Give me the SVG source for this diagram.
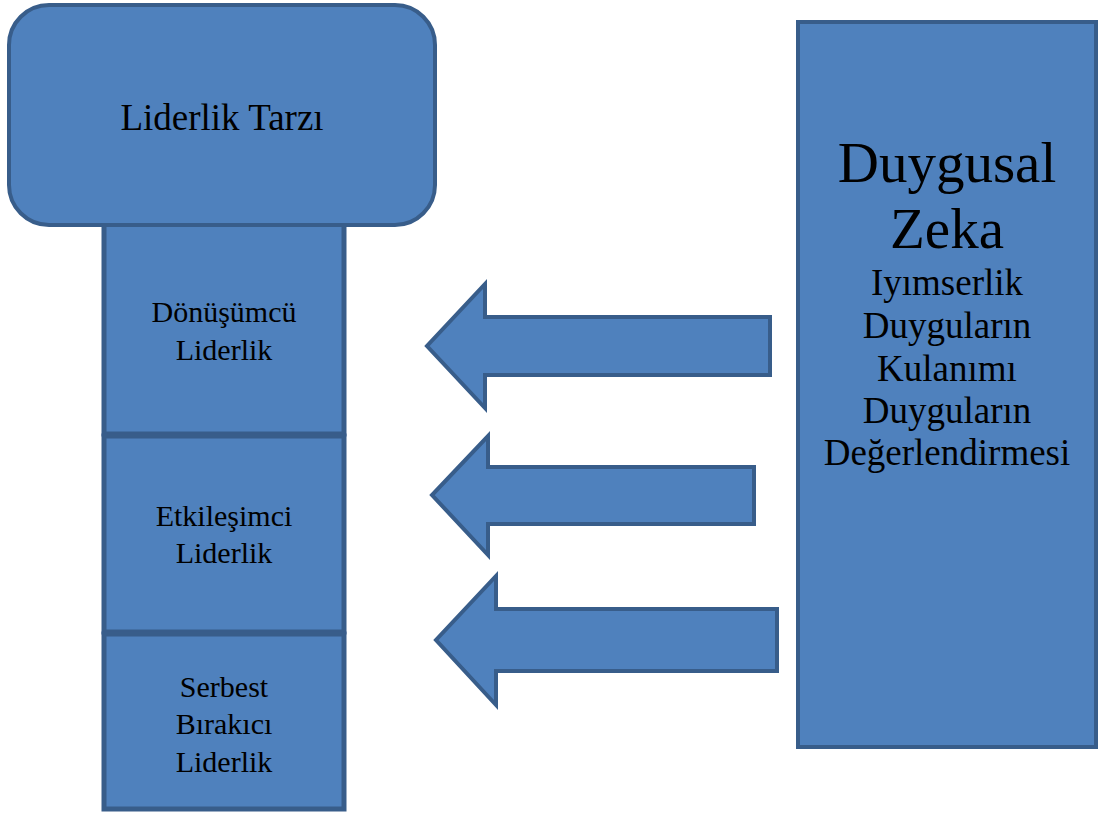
<svg xmlns="http://www.w3.org/2000/svg" width="1099" height="816" viewBox="0 0 1099 816">
<style>
.s{fill:#4f81bd;stroke:#385d8a;stroke-width:4}
.c{stroke-width:5}
.t{font-family:"Liberation Serif","Times New Roman",serif;fill:#000;text-anchor:middle}
</style>
<rect width="1099" height="816" fill="#fff"/>
<g id="connectors">
<polygon class="s" points="770,317 485,317 485,284 427,346 485,408 485,375 770,375"/>
<polygon class="s" points="754,467 488,467 488,436 432,495 488,555 488,524 754,524"/>
<polygon class="s" points="777,609 496,609 496,576 436,640 496,705 496,671 777,671"/>
</g>
<g id="n-dz">
<rect class="s" x="798" y="22" width="298" height="725" stroke-width="3.5"/>
<text class="t" font-size="57" x="947" y="182">Duygusal</text>
<text class="t" font-size="57" x="947" y="248">Zeka</text>
<text class="t" font-size="37" x="947" y="295">Iyımserlik</text>
<text class="t" font-size="37" x="947" y="338">Duyguların</text>
<text class="t" font-size="37" x="947" y="381">Kulanımı</text>
<text class="t" font-size="37" x="947" y="423">Duyguların</text>
<text class="t" font-size="37" x="947" y="465">Değerlendirmesi</text>
</g>
<g id="n-donusumcu">
<rect class="s c" x="104" y="224" width="240" height="210"/>
<text class="t" font-size="30" x="224" y="322">Dönüşümcü</text>
<text class="t" font-size="30" x="224" y="360">Liderlik</text>
</g>
<g id="n-etkilesimci">
<rect class="s c" x="104" y="436" width="240" height="196"/>
<text class="t" font-size="30" x="224" y="526">Etkileşimci</text>
<text class="t" font-size="30" x="224" y="563">Liderlik</text>
</g>
<g id="n-serbest">
<rect class="s c" x="104" y="634" width="240" height="175"/>
<text class="t" font-size="30" x="224" y="697">Serbest</text>
<text class="t" font-size="30" x="224" y="734">Bırakıcı</text>
<text class="t" font-size="30" x="224" y="772">Liderlik</text>
</g>
<g id="n-liderlik">
<rect class="s" x="9" y="5" width="426" height="220" rx="40" ry="40"/>
<text class="t" font-size="37" x="222" y="130">Liderlik Tarzı</text>
</g>
</svg>
